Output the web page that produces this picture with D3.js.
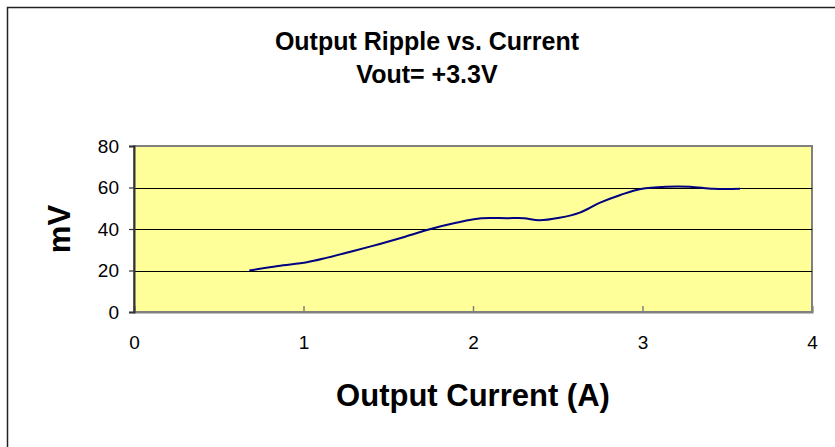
<!DOCTYPE html>
<html>
<head>
<meta charset="utf-8">
<script src="https://cdn.jsdelivr.net/npm/d3@7"></script>
<style>
  body { margin: 0; background: #fff; }
  svg { display: block; font-family: "Liberation Sans", Arial, sans-serif; }
  .axis text { font-size: 19px; fill: #000; }
</style>
</head>
<body>
<svg id="chartSvg" width="835" height="447"></svg>
<script>
// values
let currents = [0.68, 0.85, 1.02, 1.14, 1.30, 1.45, 1.60, 1.75, 1.90, 2.05, 2.20, 2.30, 2.39, 2.51, 2.63, 2.75, 2.87, 2.99, 3.14, 3.28, 3.42, 3.575];
let ripple = [20.0, 22.2, 24.0, 26.2, 29.5, 32.8, 36.3, 40.0, 43.0, 45.2, 45.2, 45.2, 44.2, 45.4, 47.9, 52.7, 56.4, 59.3, 60.4, 60.4, 59.4, 59.4];
let xTicks = [0, 1, 2, 3, 4];
let yTicks = [0, 20, 40, 60, 80];
let titleLines = ['Output Ripple vs. Current', 'Vout= +3.3V'];

let plotFill = '#ffff99';
let lineColour = '#000080';

function drawChart() {
    let svg = d3.select('#chartSvg');

    // outer chart border (cut off at right and bottom)
    svg.append('rect')
        .attr('x', 7.5)
        .attr('y', 7.5)
        .attr('width', 840)
        .attr('height', 450)
        .attr('fill', 'none')
        .attr('stroke', '#222')
        .attr('stroke-width', 1.5);

    let left = 134, right = 812, top = 146, bottom = 312;
    let width = right - left;
    let height = bottom - top;

    let chart = svg.append('g')
        .attr('transform', `translate(${left}, ${top})`);

    const xScale = d3.scaleLinear().domain([0, 4]).range([0, width]);
    const yScale = d3.scaleLinear().domain([0, 80]).range([height, 0]);

    // plot area
    chart.append('rect')
        .attr('x', 0)
        .attr('y', 0)
        .attr('width', width)
        .attr('height', height)
        .attr('fill', plotFill)
        .attr('stroke', '#808080')
        .attr('stroke-width', 2);

    // horizontal grid
    chart.append('g')
        .selectAll('line')
        .data(yTicks.filter(d => d > 0 && d < 80))
        .enter()
        .append('line')
        .attr('x1', 0)
        .attr('x2', width)
        .attr('y1', d => Math.round(yScale(d)) + 0.5)
        .attr('y2', d => Math.round(yScale(d)) + 0.5)
        .attr('stroke', '#000')
        .attr('stroke-width', 1.2);

    // x axis, ticks point inward
    let xAxis = chart.append('g')
        .attr('class', 'axis')
        .attr('transform', `translate(0, ${height})`)
        .call(d3.axisBottom(xScale).tickValues(xTicks).tickSize(-6).tickPadding(24).tickFormat(d3.format('d')));
    xAxis.select('.domain').attr('stroke', '#808080').attr('stroke-width', 2);
    xAxis.selectAll('.tick line').attr('stroke', '#808080').attr('stroke-width', 1.5);

    // y axis
    let yAxis = chart.append('g')
        .attr('class', 'axis')
        .call(d3.axisLeft(yScale).tickValues(yTicks).tickSize(5).tickPadding(10).tickFormat(d3.format('d')));
    yAxis.select('.domain').attr('stroke', '#333').attr('stroke-width', 2);
    yAxis.selectAll('.tick line').attr('stroke', '#333').attr('stroke-width', 1.2);

    // data line
    let line = d3.line()
        .x((d, i) => xScale(currents[i]))
        .y(d => yScale(d))
        .curve(d3.curveCatmullRom.alpha(0.5));

    chart.append('path')
        .datum(ripple)
        .attr('d', line)
        .attr('fill', 'none')
        .attr('stroke', lineColour)
        .attr('stroke-width', 2);

    // titles
    svg.append('g')
        .selectAll('text')
        .data(titleLines)
        .enter()
        .append('text')
        .attr('x', 427)
        .attr('y', (d, i) => 50 + i * 33)
        .attr('text-anchor', 'middle')
        .attr('font-size', '25px')
        .attr('font-weight', 'bold')
        .text(d => d);

    svg.append('text')
        .attr('x', 473)
        .attr('y', 406)
        .attr('text-anchor', 'middle')
        .attr('font-size', '31px')
        .attr('font-weight', 'bold')
        .text('Output Current (A)');

    svg.append('text')
        .attr('transform', 'translate(70, 229) rotate(-90)')
        .attr('text-anchor', 'middle')
        .attr('font-size', '31px')
        .attr('font-weight', 'bold')
        .text('mV');
}

drawChart();
</script>
</body>
</html>
